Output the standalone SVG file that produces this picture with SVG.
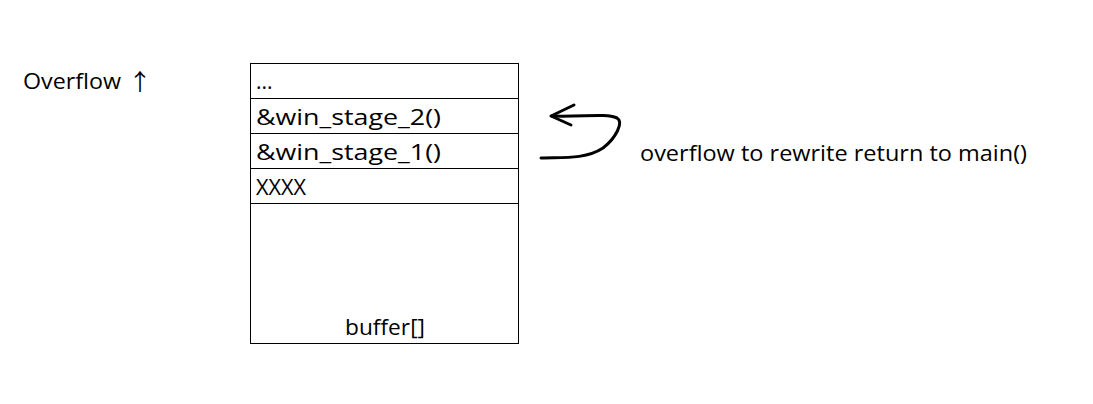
<svg xmlns="http://www.w3.org/2000/svg" width="1093" height="404" viewBox="0 0 1093 404">
<style>
text{font-family:"Open Sans","Liberation Sans",sans-serif;font-size:21px;fill:#000}
.arrowglyph{font-family:"Noto Sans CJK SC",sans-serif;font-size:23px}
.cell{fill:#fff;stroke:#000;stroke-width:1}
.pen{fill:none;stroke:#000;stroke-width:3;stroke-linecap:round;stroke-linejoin:round}
</style>
<rect width="1093" height="404" fill="#fff"/>
<g id="label-overflow"><text x="23" y="89" textLength="98" lengthAdjust="spacingAndGlyphs">Overflow</text><text class="arrowglyph" x="140" y="90" text-anchor="middle">↑</text></g>
<g id="stack">
<g id="cell-dots"><rect class="cell" x="250.5" y="63.5" width="268" height="35"/><text x="256" y="89">...</text></g>
<g id="cell-win2"><rect class="cell" x="250.5" y="98.5" width="268" height="35"/><text x="256" y="125" textLength="185" lengthAdjust="spacingAndGlyphs">&amp;win_stage_2()</text></g>
<g id="cell-win1"><rect class="cell" x="250.5" y="133.5" width="268" height="35"/><text x="256" y="160" textLength="185" lengthAdjust="spacingAndGlyphs">&amp;win_stage_1()</text></g>
<g id="cell-xxxx"><rect class="cell" x="250.5" y="168.5" width="268" height="35"/><text x="256" y="195" textLength="50" lengthAdjust="spacingAndGlyphs">XXXX</text></g>
<g id="cell-buffer"><rect class="cell" x="250.5" y="203.5" width="268" height="140"/><text x="345" y="335" textLength="80" lengthAdjust="spacingAndGlyphs">buffer[]</text></g>
</g>
<g id="connectors">
<path class="pen" d="M541 158 C560 157 585 160 603 148 C616 138 624 122 617 118 C605 113 585 117 552 116"/>
<path class="pen" d="M574 105 L551 116 L571 125"/>
</g>
<g id="label-note"><text x="640" y="161" textLength="387" lengthAdjust="spacingAndGlyphs">overflow to rewrite return to main()</text></g>
</svg>
